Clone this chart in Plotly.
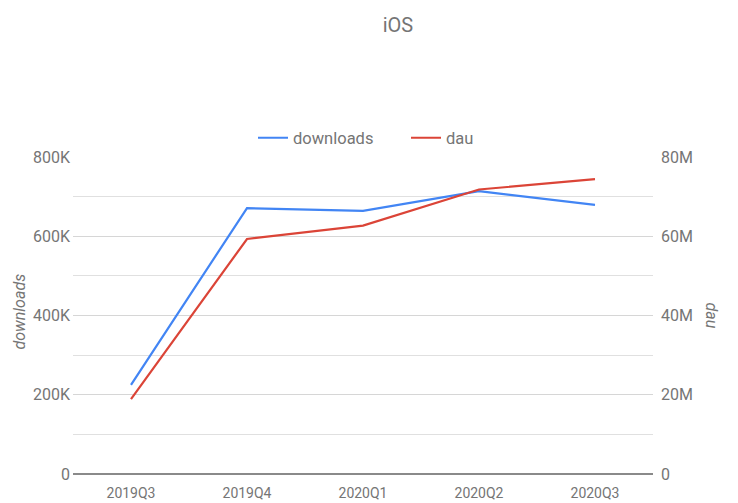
import plotly.graph_objects as go

quarters = ["2019Q3", "2019Q4", "2020Q1", "2020Q2", "2020Q3"]
downloads = [225000, 671000, 664000, 714000, 679000]
dau = [18900000, 59300000, 62700000, 71800000, 74400000]

left_ticks = [0, 200000, 400000, 600000, 800000]
left_labels = ["0", "200K", "400K", "600K", "800K"]
right_ticks = [0, 20000000, 40000000, 60000000, 80000000]
right_labels = ["0", "20M", "40M", "60M", "80M"]

# page has an 8px body margin; the figure is sized to fit the window
OFF = 8
W, H = 738 - OFF, 503 - OFF
L, R, T, B = 73 - OFF, 85, 157 - OFF, 29
PW, PH = W - L - R, H - T - B

def px_x(x):
    return (x - OFF - L) / PW

def px_y(y):
    return (H - B - (y - OFF)) / PH

grey = "#757575"
font = "Roboto, Arial, sans-serif"

fig = go.Figure()
fig.add_trace(go.Scatter(x=quarters, y=downloads, name="downloads", mode="lines",
                         line=dict(color="#4285F4", width=2.2)))
fig.add_trace(go.Scatter(x=quarters, y=dau, name="dau", mode="lines", yaxis="y2",
                         line=dict(color="#DB4437", width=2.2)))

fig.update_layout(
    width=W, height=H,
    margin=dict(l=L, r=R, t=T, b=B, pad=0, autoexpand=False),
    paper_bgcolor="white", plot_bgcolor="white",
    font=dict(family=font, size=16, color=grey),
    title=dict(text="iOS", x=(398 - OFF) / W, xanchor="center", y=1 - (25 - OFF) / H,
               yanchor="middle", xref="container", yref="container",
               font=dict(family=font, size=20, color=grey)),
    showlegend=True,
    legend=dict(orientation="h", x=px_x(253), xanchor="left", y=px_y(138), yanchor="middle",
                font=dict(family=font, size=16.5, color=grey), bgcolor="rgba(0,0,0,0)",
                entrywidth=108, entrywidthmode="pixels"),
    xaxis=dict(type="category", range=[-0.5, 4.5], showgrid=False, zeroline=False,
               showline=False, ticks="", ticklabelstandoff=9, automargin=False,
               tickfont=dict(size=14, color=grey)),
    yaxis=dict(range=[0, 800000], tickvals=left_ticks, ticktext=left_labels,
               showgrid=True, gridcolor="#d6d6d6", gridwidth=1,
               minor=dict(dtick=100000, showgrid=True, gridcolor="#e0e0e0", gridwidth=1),
               zeroline=True, zerolinecolor="#8a8a8a", zerolinewidth=2,
               showline=False, ticks="", ticklabelstandoff=2, automargin=False,
               tickfont=dict(size=16, color=grey)),
    yaxis2=dict(range=[0, 80000000], tickvals=right_ticks, ticktext=right_labels,
                overlaying="y", side="right", showgrid=False, zeroline=False,
                showline=False, ticks="", ticklabelstandoff=7, automargin=False,
                tickfont=dict(size=16, color=grey)),
    annotations=[
        dict(text="<i>downloads</i>", xref="paper", yref="paper", x=px_x(18.5), y=px_y(312),
             textangle=-90, showarrow=False, font=dict(family=font, size=16, color=grey),
             xanchor="center", yanchor="middle"),
        dict(text="<i>dau</i>", xref="paper", yref="paper", x=px_x(711.5), y=px_y(315),
             textangle=90, showarrow=False, font=dict(family=font, size=16, color=grey),
             xanchor="center", yanchor="middle"),
    ],
)

fig.write_html("out.html")
